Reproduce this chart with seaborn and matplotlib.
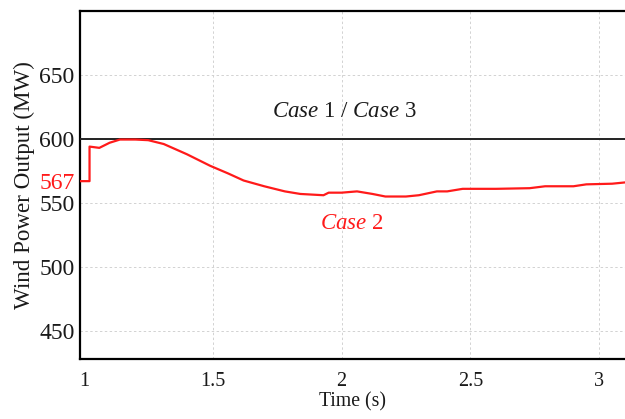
import matplotlib
matplotlib.use('Agg')
import matplotlib.pyplot as plt
import seaborn as sns
import pandas as pd

# valores
tempo_caso2 = [0.985, 1.022, 1.022, 1.06, 1.10, 1.14, 1.20, 1.25, 1.31, 1.40, 1.49, 1.56,
               1.62, 1.70, 1.78, 1.84, 1.93, 1.95, 2.00, 2.06, 2.12, 2.17, 2.25, 2.30,
               2.37, 2.41, 2.47, 2.60, 2.73, 2.79, 2.90, 2.95, 3.05, 3.10]
potencia_caso2 = [567, 567, 594, 593, 597, 599.5, 599.5, 599, 596, 588, 579, 573,
                  567.5, 563, 559, 557, 556, 558, 558, 559, 557, 555, 555, 556,
                  559, 559, 561, 561, 561.5, 563, 563, 564.5, 565, 566]
tempo_caso13 = [0.985, 3.10]
potencia_caso13 = [600, 600]

y_ticks = [450, 500, 550, 567, 600, 650]
x_ticks = [1, 1.5, 2, 2.5, 3]

sns.set_style("whitegrid")
plt.rcParams['font.family'] = ['Liberation Serif', 'DejaVu Serif']
plt.rcParams['mathtext.fontset'] = 'custom'
plt.rcParams['mathtext.it'] = 'Liberation Serif:italic'
plt.rcParams['mathtext.rm'] = 'Liberation Serif'

fig = plt.figure(figsize=(6.25, 4.19), dpi=100)
ax = fig.add_axes([0.128, 0.143, 0.872, 0.831])

df2 = pd.DataFrame({'t': tempo_caso2, 'p': potencia_caso2})
df13 = pd.DataFrame({'t': tempo_caso13, 'p': potencia_caso13})

sns.lineplot(data=df13, x='t', y='p', ax=ax, color='#222222', linewidth=1.4,
             estimator=None, sort=False, zorder=3)
sns.lineplot(data=df2, x='t', y='p', ax=ax, color='#ff1a1a', linewidth=1.6,
             estimator=None, sort=False, zorder=4)

ax.set_xlim(0.985, 3.1)
ax.set_ylim(428, 700)
ax.set_xticks(x_ticks)
ax.set_xticklabels(['1', '1.5', '2', '2.5', '3'], fontsize=14.5, color='#1a1a1a')
ax.set_yticks(y_ticks)
ax.set_yticklabels([str(v) for v in y_ticks], fontsize=17, color='#1a1a1a')
ax.get_yticklabels()[3].set_color('#ff1a1a')
ax.tick_params(length=0, pad=4)
ax.tick_params(axis='x', pad=9)

# grade tracejada suave
ax.grid(True, linestyle=(0, (2.5, 2.5)), color='#d2d2d2', linewidth=0.7)
ax.yaxis.get_gridlines()[3].set_visible(False)
ax.xaxis.get_gridlines()[0].set_visible(False)

for lado in ['left', 'bottom', 'top']:
    ax.spines[lado].set_color('black')
    ax.spines[lado].set_linewidth(1.6)
ax.spines['right'].set_visible(False)

ax.set_xlabel('Time (s)', fontsize=14.2, labelpad=1, color='#1a1a1a')
ax.set_ylabel('Wind Power Output (MW)', fontsize=16.6, labelpad=3, color='#1a1a1a')

ax.text(2.01, 621.5, r'$\it{Case}$ 1 / $\it{Case}$ 3', fontsize=16.5, ha='center', va='center',
        color='#1a1a1a')
ax.text(2.04, 534, r'$\it{Case}$ 2', fontsize=16.5, ha='center', va='center', color='#ff1a1a')

plt.savefig('out.png', dpi=100)
plt.close()
